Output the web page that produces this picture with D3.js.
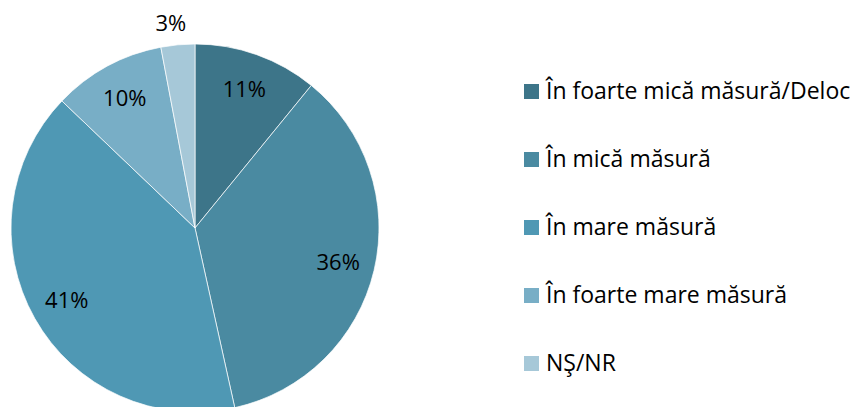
<!DOCTYPE html>
<html>
<head>
<meta charset="utf-8">
<script src="https://cdnjs.cloudflare.com/ajax/libs/d3/7.8.5/d3.min.js"></script>
<style>
  body { margin: 0; background: #fff; }
  text { font-family: "Open Sans", Lato, sans-serif; fill: #000; }
</style>
</head>
<body>
<div class="chart"></div>
<script>
// data
var categories = ["În foarte mică măsură/Deloc", "În mică măsură", "În mare măsură", "În foarte mare măsură", "NŞ/NR"];
var values = [11, 36, 41, 10, 3];
var colors = ["#3d7589", "#4a8aa1", "#4f98b4", "#78aec6", "#a6c8d8"];

var width = 855, height = 407;
var cx = 195, cy = 228, radius = 184;

var svg = d3.select("div.chart")
    .append("svg")
    .attr("width", width)
    .attr("height", height);

var pie = d3.pie().sort(null).value(function (d) { return d; });
var arc = d3.arc().innerRadius(0).outerRadius(radius);
var labelArc = d3.arc().innerRadius(radius * 0.8).outerRadius(radius * 0.8);
var outerArc = d3.arc().innerRadius(radius * 1.12).outerRadius(radius * 1.12);

var g = svg.append("g")
    .attr("transform", "translate(" + cx + "," + cy + ")");

var arcs = pie(values);

g.selectAll("path.slice")
    .data(arcs)
    .enter()
    .append("path")
    .attr("class", "slice")
    .attr("d", arc)
    .style("fill", function (d, i) { return colors[i]; })
    .style("stroke", "#fff")
    .style("stroke-width", 0.7);

// labels, small slice goes outside
g.selectAll("text.label")
    .data(arcs)
    .enter()
    .append("text")
    .attr("class", "label")
    .attr("transform", function (d) {
        var c = (d.data < 5) ? outerArc.centroid(d) : labelArc.centroid(d);
        if (d.data < 5) c[0] -= 5;
        return "translate(" + c + ")";
    })
    .attr("text-anchor", "middle")
    .attr("dy", "0.35em")
    .style("font-size", "22px")
    .text(function (d) { return d.data + "%"; });

// legend
var legend = svg.append("g")
    .attr("transform", "translate(524,91)");

var rows = legend.selectAll("g.row")
    .data(categories)
    .enter()
    .append("g")
    .attr("class", "row")
    .attr("transform", function (d, i) { return "translate(0," + (i * 68) + ")"; });

rows.append("rect")
    .attr("x", 0)
    .attr("y", -7)
    .attr("width", 15)
    .attr("height", 15)
    .style("fill", function (d, i) { return colors[i]; });

rows.append("text")
    .attr("x", 22)
    .attr("dy", "0.35em")
    .style("font-size", "23px")
    .text(function (d) { return d; });
</script>
</body>
</html>
